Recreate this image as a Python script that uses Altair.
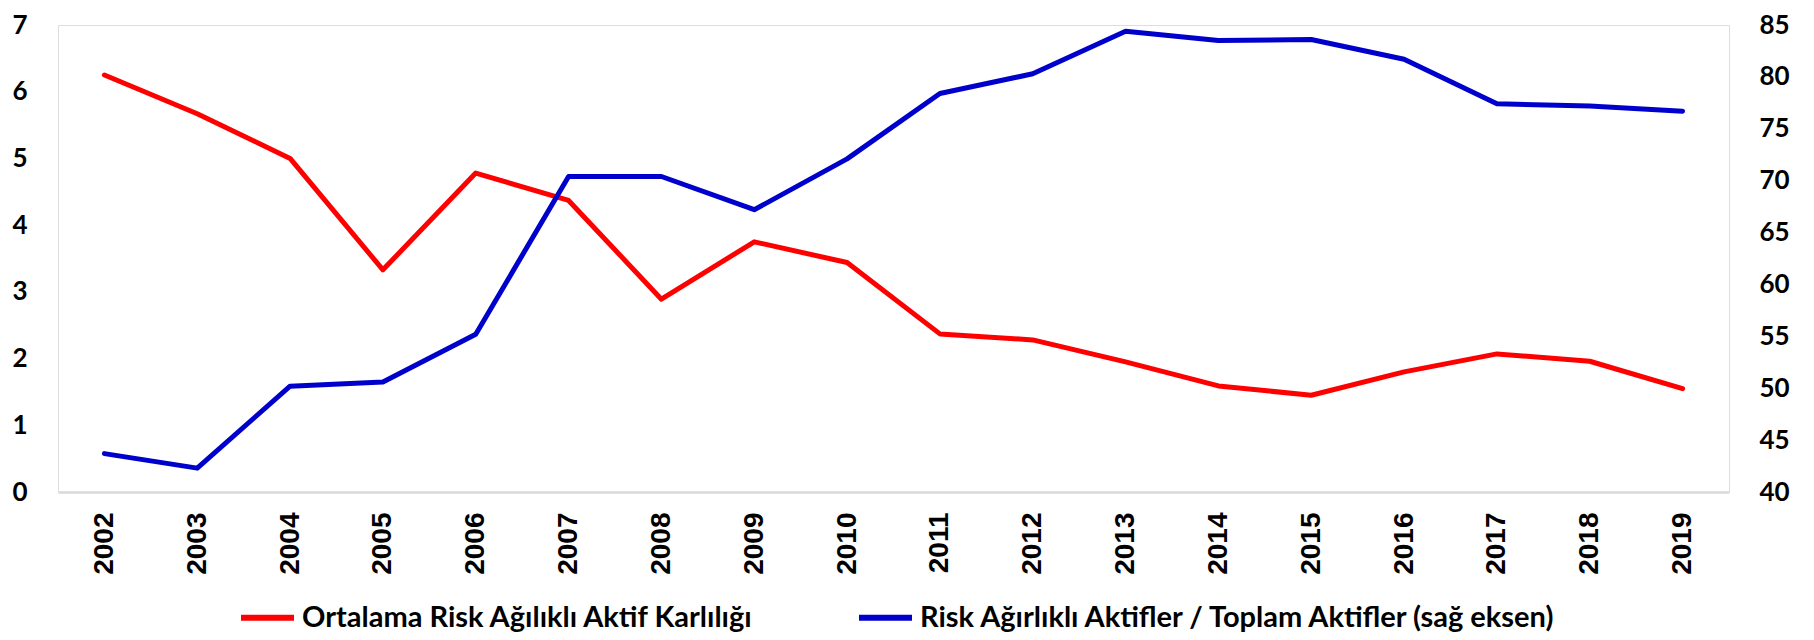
import altair as alt
import pandas as pd

years = [str(y) for y in range(2002, 2020)]
red_name = "Ortalama Risk Ağılıklı Aktif Karlılığı"
blue_name = "Risk Ağırlıklı Aktifler / Toplam Aktifler (sağ eksen)"
red_vals = [6.25, 5.67, 5.00, 3.33, 4.78, 4.37, 2.89, 3.75, 3.44, 2.37,
            2.28, 1.95, 1.59, 1.45, 1.80, 2.07, 1.96, 1.55]
blue_vals = [43.7, 42.3, 50.2, 50.6, 55.2, 70.4, 70.4, 67.2, 72.1, 78.4,
             80.3, 84.4, 83.5, 83.6, 81.7, 77.4, 77.2, 76.7]
left_ticks = [0, 1, 2, 3, 4, 5, 6, 7]
right_ticks = [40, 45, 50, 55, 60, 65, 70, 75, 80, 85]

df = pd.DataFrame({
    "year": years * 2,
    "value": red_vals + blue_vals,
    "series": [red_name] * len(years) + [blue_name] * len(years),
})

FONT = "Lato"
color = alt.Color(
    "series:N",
    scale=alt.Scale(domain=[red_name, blue_name], range=["#ff0000", "#0000cc"]),
    legend=alt.Legend(
        title=None, orient="none", direction="horizontal",
        legendX=180, legendY=563, padding=0,
        symbolType="stroke", symbolSize=2809, symbolStrokeWidth=6,
        labelFont=FONT, labelFontSize=29, labelFontWeight="bold",
        labelColor="#000000", labelLimit=900, labelOffset=5,
        columnPadding=92,
    ),
)

x = alt.X(
    "year:O", title=None, sort=years,
    scale=alt.Scale(padding=0.5),
    axis=alt.Axis(
        labelAngle=-90, labelFont="Liberation Sans", labelFontSize=28,
        labelFontWeight="bold", labelColor="#000000", labelPadding=20,
        ticks=False, domainColor="#d9d9d9", domainWidth=2.5,
    ),
)

base = alt.Chart(df)

red = base.transform_filter(alt.datum.series == red_name).mark_line(
    strokeWidth=5, strokeCap="round", strokeJoin="round"
).encode(
    x=x,
    y=alt.Y(
        "value:Q", title=None,
        scale=alt.Scale(domain=[0, 7], nice=False, zero=False),
        axis=alt.Axis(
            values=left_ticks, orient="left", grid=False, domain=False,
            ticks=False, labelFont=FONT, labelFontSize=26,
            labelFontWeight="bold", labelColor="#000000", labelPadding=31,
        ),
    ),
    color=color,
)

blue = base.transform_filter(alt.datum.series == blue_name).mark_line(
    strokeWidth=5, strokeCap="round", strokeJoin="round"
).encode(
    x=x,
    y=alt.Y(
        "value:Q", title=None,
        scale=alt.Scale(domain=[40, 85], nice=False, zero=False),
        axis=alt.Axis(
            values=right_ticks, orient="right", grid=False, domain=False,
            ticks=False, labelFont=FONT, labelFontSize=26,
            labelFontWeight="bold", labelColor="#000000", labelPadding=30,
        ),
    ),
    color=color,
)

chart = alt.layer(red, blue).resolve_scale(y="independent").properties(
    width=1671, height=467,
    autosize=alt.AutoSizeParams(type="none"),
    padding={"left": 50, "top": 17, "right": 70, "bottom": 140},
).configure_view(stroke=None).configure(background="#ffffff")

chart.save("out.html", embed_options={"renderer": "svg", "actions": False})
